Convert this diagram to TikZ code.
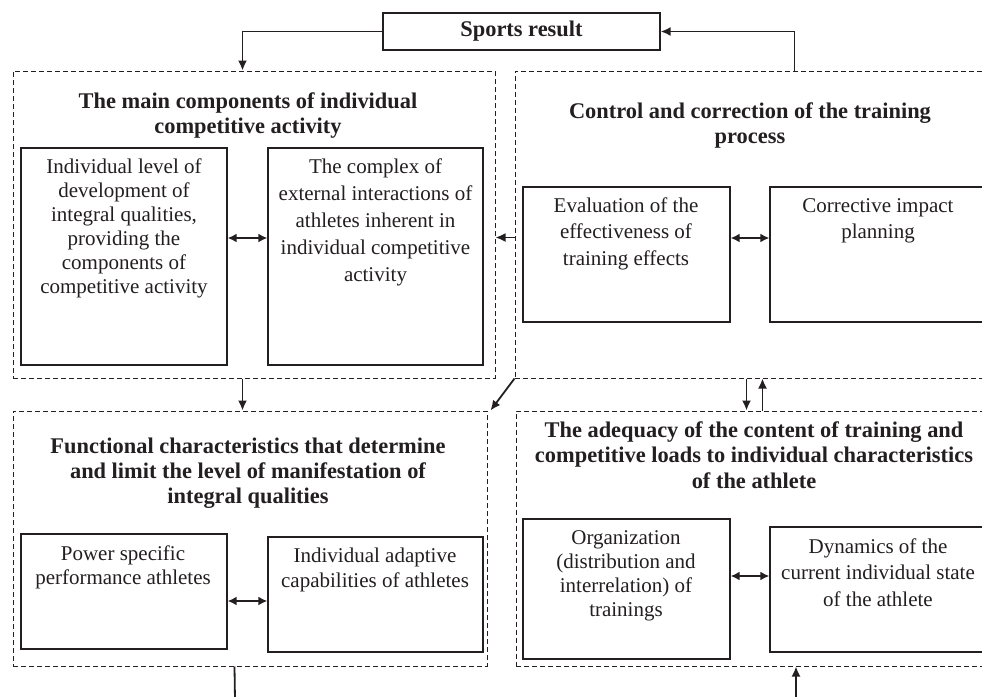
\documentclass[tikz,border=0pt]{standalone}
\usepackage{fontspec}
\setmainfont{Liberation Serif}
\usetikzlibrary{arrows.meta,fit}
\definecolor{ink}{RGB}{35,31,32}
\newcommand{\firstln}{\rule{0pt}{8pt}}
\begin{document}
\begin{tikzpicture}[x=0.5pt,y=-0.5pt,
  grp/.style={draw=ink, line width=0.5pt, dash pattern=on 2.5pt off 1.5pt, inner sep=0pt},
  ibox/.style={draw=ink, line width=0.65pt, inner sep=0pt},
  ttl/.style={font=\bfseries\fontsize{11.2}{12.5}\selectfont, align=center, inner sep=0pt, anchor=north, text=ink},
  itx/.style={font=\fontsize{10.5}{12}\selectfont, align=center, inner sep=0pt, anchor=north, text=ink},
  arr/.style={line width=0.9pt, draw=ink, -{Latex[length=5pt,width=4.5pt]}},
  darr/.style={line width=0.9pt, draw=ink, {Latex[length=4.5pt,width=4.5pt]}-{Latex[length=4.5pt,width=4.5pt]}},
  ln/.style={line width=0.9pt, draw=ink}
]
\useasboundingbox (0,0) rectangle (982,697);
\clip (0,0) rectangle (982,697);
\fill[white] (0,0) rectangle (982,697);

% Sports result
\node[ibox, minimum width=138.5pt, minimum height=18.5pt, font=\bfseries\fontsize{11.2}{12.5}\selectfont, text=ink] (sr) at (521.5,31.5) {Sports result};

% group boxes
\node[grp, fit={(13,71) (495,378)}] (gTL) {};
\node[grp, fit={(515,71) (995,378)}] (gTR) {};
\node[grp, fit={(13,411) (487,666)}] (gBL) {};
\node[grp, fit={(516,411) (995,666)}] (gBR) {};

% inner boxes
\node[ibox, fit={(21,148) (227,365)}] (tl1) {};
\node[ibox, fit={(268,148) (483,365)}] (tl2) {};
\node[ibox, fit={(523,187) (730,322)}] (tr1) {};
\node[ibox, fit={(770,187) (986,322)}] (tr2) {};
\node[ibox, fit={(21,534) (227,649)}] (bl1) {};
\node[ibox, fit={(268,537) (483,652)}] (bl2) {};
\node[ibox, fit={(523,519) (730,659)}] (br1) {};
\node[ibox, fit={(770,527) (986,652)}] (br2) {};

% titles
\node[ttl] (tTL) at (248,92) {\firstln The main components of individual\\competitive activity};
\node[ttl] (tTR) at (750,102) {\firstln Control and correction of the training\\process};
\node[ttl] (tBL) at (248,437) {\firstln Functional characteristics that determine\\and limit the level of manifestation of\\integral qualities};
\node[ttl, font=\bfseries\fontsize{11.2}{12.75}\selectfont] (tBR) at (754,421) {\firstln The adequacy of the content of training and\\competitive loads to individual characteristics\\of the athlete};

% inner texts
\node[itx] (xtl1) at (124,157) {\firstln Individual level of\\development of\\integral qualities,\\providing the\\components of\\competitive activity};
\node[itx, font=\fontsize{10.5}{13.5}\selectfont] (xtl2) at (375.5,157) {\firstln The complex of\\external interactions of\\athletes inherent in\\individual competitive\\activity};
\node[itx, font=\fontsize{10.5}{13.2}\selectfont] (xtr1) at (626,196) {\firstln Evaluation of the\\effectiveness of\\training effects};
\node[itx, font=\fontsize{10.5}{13.2}\selectfont] (xtr2) at (878,196) {\firstln Corrective impact\\planning};
\node[itx] (xbl1) at (123,544) {\firstln Power specific\\performance athletes};
\node[itx, font=\fontsize{10.5}{12.5}\selectfont] (xbl2) at (375,546) {\firstln Individual adaptive\\capabilities of athletes};
\node[itx] (xbr1) at (626,528) {\firstln Organization\\(distribution and\\interrelation) of\\trainings};
\node[itx, font=\fontsize{10.5}{13.2}\selectfont] (xbr2) at (878,537) {\firstln Dynamics of the\\current individual state\\of the athlete};

% connectors: sports result
\draw[arr] (sr.west) -| ([xshift=115pt]gTL.north west);
\draw[arr] ([xshift=140pt]gTR.north west) |- (sr.east);

% TR -> TL
\draw[arr] ([yshift=-6.5pt]gTR.west) -- ([yshift=-6.5pt]gTL.east);

% double arrows
\coordinate (m1) at ([yshift=9.25pt]tl1.east);
\draw[darr] (m1) -- (m1 -| tl2.west);
\coordinate (m2) at ([yshift=8.25pt]tr1.east);
\draw[darr] (m2) -- (m2 -| tr2.west);
\coordinate (m3) at ([yshift=-4.75pt]bl1.east);
\draw[darr] (m3) -- (m3 -| bl2.west);
\coordinate (m4) at ([yshift=6.5pt]br1.east);
\draw[darr] (m4) -- (m4 -| br2.west);

% TL -> BL, TR -> BL diagonal
\draw[arr] ([xshift=115pt]gTL.south west) -- ([xshift=115pt]gBL.north west);
\draw[arr] (gTR.south west) -- ([xshift=1.5pt]gBL.north east);

% TR <-> BR
\draw[arr] ([xshift=116pt]gTR.south west) -- ([xshift=115.5pt]gBR.north west);
\draw[arr] ([xshift=123.5pt]gBR.north west) -- ([xshift=124pt]gTR.south west);

% bottom connectors
\coordinate (s1) at ([xshift=111pt]gBL.south west);
\coordinate (b1) at (235,700);
\draw[ln] (s1) -- (b1 |- 0,700);
\coordinate (b2) at (796,700);
\draw[arr] (b2) -- (b2 |- gBR.south);
\end{tikzpicture}
\end{document}
